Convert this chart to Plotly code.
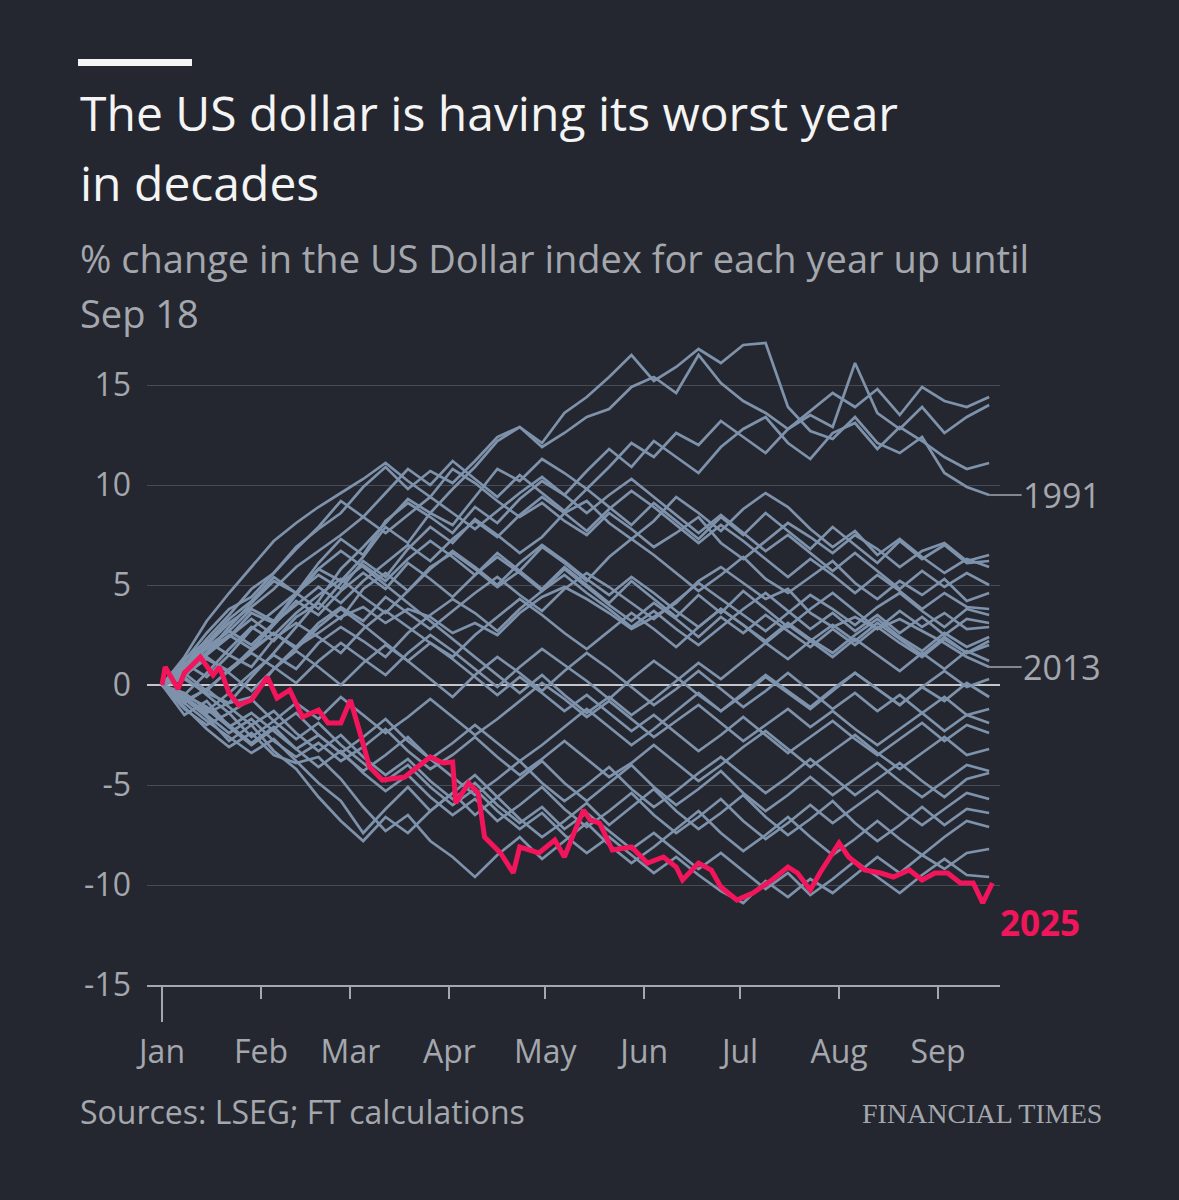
import pandas as pd
import plotly.graph_objects as go

# % change in the US Dollar index, year to date
start = pd.Timestamp("2025-01-01")
week_days = list(range(0, 260, 7))  # weekly readings, Jan 1 -> Sep 17

y1991 = [0, -0.6, -1.4, -0.9, 0.4, 1.6, 2.9, 4.2, 5.8, 6.9, 8.1, 9.3, 8.6, 9.8, 10.9, 12.2, 12.9, 12.1, 13.6, 14.4,
         15.4, 16.5, 15.2, 15.9, 16.8, 16.1, 17.0, 17.1, 13.9, 12.7, 12.3, 13.4, 12.1, 11.6, 12.4, 10.6, 9.9, 9.5]
y2013 = [0, 0.3, -0.4, -0.9, -0.6, 0.8, 1.9, 2.6, 3.4, 3.9, 3.1, 3.8, 3.4, 2.6, 3.1, 2.5, 3.6, 4.4, 4.9, 4.3,
         3.6, 2.8, 3.4, 4.1, 5.2, 5.9, 5.1, 4.3, 4.8, 3.6, 2.9, 3.4, 2.8, 3.3, 2.7, 2.1, 1.4, 0.9]

other_years = [
    [0, 1.2, 2.6, 3.8, 4.4, 5.6, 6.9, 7.8, 8.6, 9.9, 10.9, 9.8, 10.7, 10.1, 11.2, 12.4, 12.9, 11.9, 12.6, 13.4,
     13.8, 14.9, 15.4, 14.6, 16.5, 15.1, 14.2, 13.6, 12.8, 13.7, 14.6, 13.9, 14.8, 13.5, 14.9, 14.2, 13.9, 14.4],
    [0, 0.6, 1.9, 2.4, 3.6, 3.1, 4.5, 5.8, 5.2, 6.4, 7.9, 7.1, 8.6, 8.0, 9.4, 10.8, 10.2, 11.3, 10.6, 9.8,
     10.9, 12.1, 11.4, 12.6, 12.0, 13.2, 12.4, 11.6, 12.8, 13.5, 12.9, 16.1, 13.6, 12.8, 13.9, 12.6, 13.4, 14.0],
    [0, 0.9, 1.6, 2.9, 4.1, 5.2, 4.6, 6.1, 7.3, 6.5, 8.2, 9.1, 8.4, 7.6, 8.9, 8.1, 9.3, 10.2, 9.5, 10.7,
     11.8, 10.9, 12.2, 11.4, 10.6, 11.9, 12.8, 13.4, 12.1, 11.3, 12.6, 13.1, 11.8, 12.9, 12.2, 11.4, 10.8, 11.1],
    [0, 1.4, 3.2, 4.6, 5.9, 7.2, 8.1, 8.9, 9.6, 10.3, 11.1, 10.2, 9.4, 10.8, 10.1, 9.2, 8.4, 9.1, 8.2, 7.5,
     8.6, 7.8, 6.9, 7.6, 8.4, 7.1, 6.3, 7.2, 8.1, 7.4, 6.6, 7.5, 6.8, 5.9, 6.7, 7.1, 6.2, 6.5],
    [0, 0.8, 1.9, 2.7, 3.8, 3.2, 4.6, 5.5, 4.8, 6.2, 5.4, 6.8, 7.9, 7.1, 8.3, 7.5, 6.6, 7.4, 8.6, 9.2,
     8.1, 7.3, 8.2, 9.4, 8.6, 7.7, 8.8, 9.6, 8.9, 7.8, 6.9, 7.7, 6.5, 7.3, 6.4, 5.6, 6.3, 5.9],
    [0, -0.5, 0.6, 1.8, 2.9, 2.2, 3.4, 4.1, 3.3, 4.8, 5.6, 4.7, 5.9, 6.6, 5.8, 4.9, 5.7, 6.9, 6.1, 5.2,
     6.4, 7.3, 6.5, 5.6, 4.7, 5.5, 6.4, 5.3, 4.6, 5.4, 6.2, 5.1, 4.3, 5.2, 4.5, 5.3, 4.2, 4.6],
    [0, 0.5, 1.3, 0.7, 1.8, 2.6, 1.9, 3.1, 3.9, 3.2, 4.4, 3.6, 2.8, 3.7, 4.6, 5.4, 4.5, 3.7, 4.8, 5.6,
     4.9, 4.1, 3.3, 4.2, 5.1, 4.3, 3.5, 2.7, 3.6, 4.5, 3.8, 3.0, 3.9, 4.6, 3.7, 2.9, 3.8, 3.5],
    [0, -0.7, -1.3, -0.4, 0.6, 1.5, 0.8, 2.1, 2.9, 2.2, 1.4, 2.6, 3.5, 4.3, 3.6, 2.7, 3.8, 4.7, 5.5, 4.6,
     3.8, 2.9, 3.7, 2.8, 2.0, 2.9, 3.8, 4.6, 3.7, 2.8, 3.6, 2.7, 3.5, 2.6, 3.4, 2.5, 3.3, 3.1],
    [0, 1.1, 0.4, 1.5, 0.9, 2.3, 3.1, 2.4, 1.6, 2.8, 3.7, 2.9, 2.1, 1.4, 2.5, 3.4, 4.3, 3.5, 2.6, 1.8,
     2.7, 3.6, 2.8, 1.9, 2.9, 3.8, 3.0, 2.2, 3.1, 2.3, 1.6, 2.5, 3.3, 2.4, 1.7, 2.6, 1.9, 2.4],
    [0, 0.4, 1.6, 2.5, 1.8, 3.0, 4.2, 3.5, 4.7, 5.6, 4.8, 6.1, 5.3, 4.4, 5.5, 6.4, 5.6, 4.7, 5.8, 4.9,
     4.0, 3.2, 4.1, 3.3, 2.4, 3.4, 2.6, 3.5, 2.7, 1.9, 2.8, 2.0, 2.9, 2.1, 1.4, 2.3, 1.6, 2.0],
    [0, -0.9, -0.2, 0.7, 1.6, 0.9, 0.1, 1.2, 2.1, 1.3, 0.5, 1.6, 2.5, 1.7, 0.8, -0.1, 0.9, 1.8, 1.0, 0.2,
     -0.7, 0.3, 1.2, 0.4, -0.5, -1.3, -0.4, 0.5, -0.3, -1.1, -0.2, 0.6, -0.2, -1.0, -0.1, -0.8, 0.1, -0.6],
    [0, -1.2, -2.0, -1.4, -2.6, -1.8, -0.9, -1.7, -0.6, -1.5, -2.4, -1.6, -0.7, -1.6, -2.5, -1.7, -0.8, 0.1, -0.7, -1.6,
     -0.8, -1.7, -2.6, -1.8, -1.0, -1.9, -2.8, -2.0, -1.2, -2.1, -1.3, -2.2, -3.0, -2.2, -1.4, -2.3, -1.5, -1.9],
    [0, -0.6, -1.5, -2.4, -1.7, -2.8, -3.6, -2.9, -3.8, -3.1, -2.2, -3.3, -4.2, -3.5, -2.6, -3.6, -4.5, -3.7, -2.8, -3.7,
     -4.6, -3.9, -3.0, -3.9, -4.8, -4.0, -3.1, -2.3, -3.2, -4.1, -3.3, -2.5, -3.4, -4.2, -3.4, -2.6, -3.5, -3.2],
    [0, -0.9, -1.8, -2.6, -3.4, -2.7, -3.8, -4.9, -5.8, -7.4, -6.2, -5.1, -6.3, -5.4, -4.5, -5.6, -4.7, -3.8, -4.9, -5.8,
     -4.9, -4.0, -5.1, -6.0, -5.2, -4.3, -5.4, -6.3, -5.5, -4.6, -5.5, -4.7, -3.9, -4.8, -5.6, -4.8, -4.0, -4.3],
    [0, -0.5, -1.1, -2.0, -2.9, -2.1, -3.2, -4.1, -3.3, -4.4, -5.3, -4.5, -5.6, -6.5, -5.7, -6.8, -6.0, -5.1, -6.2, -7.1,
     -6.3, -5.4, -6.5, -7.4, -6.6, -5.7, -6.8, -7.7, -6.9, -6.0, -6.9, -6.1, -5.3, -6.2, -7.0, -6.2, -5.4, -5.7],
    [0, -1.1, -2.2, -3.1, -2.4, -3.5, -3.9, -3.6, -4.7, -6.1, -7.3, -6.5, -7.8, -8.6, -9.6, -8.5, -7.6, -8.7, -7.8, -6.9,
     -8.0, -8.9, -8.1, -7.2, -6.3, -7.4, -8.3, -7.5, -6.6, -7.6, -8.5, -7.7, -6.8, -7.7, -8.5, -7.6, -6.8, -7.1],
    [0, 0.4, -0.5, -1.4, -0.7, -1.8, -2.7, -1.9, -3.0, -3.9, -4.8, -4.0, -5.1, -6.0, -5.2, -6.3, -7.2, -6.4, -7.5, -8.4,
     -7.6, -8.5, -9.4, -8.6, -9.5, -10.3, -10.9, -9.8, -10.6, -9.7, -10.4, -9.5, -8.6, -9.4, -8.5, -9.2, -8.4, -8.2],
    [0, -0.8, -0.2, -1.1, -2.0, -1.3, -2.4, -3.3, -2.5, -3.6, -4.5, -3.7, -4.8, -5.7, -4.9, -6.0, -6.9, -6.1, -7.2, -6.4,
     -7.3, -8.2, -7.4, -8.3, -9.2, -8.4, -9.3, -10.2, -9.4, -10.5, -9.7, -8.8, -9.6, -10.4, -9.5, -8.7, -9.5, -9.6],
    [0, 0.7, 1.5, 2.4, 3.3, 2.5, 3.6, 4.5, 5.3, 4.4, 3.6, 4.7, 5.8, 6.7, 5.9, 5.0, 6.1, 7.0, 6.2, 5.3,
     4.5, 5.4, 4.6, 3.7, 2.9, 3.8, 3.0, 2.1, 3.0, 2.2, 1.4, 2.3, 1.5, 0.7, 1.6, 0.8, 1.7, 1.2],
    [0, 0.9, 1.8, 2.7, 2.0, 3.1, 4.0, 4.9, 4.1, 5.2, 6.1, 7.0, 6.2, 7.3, 8.2, 7.4, 8.5, 9.4, 8.6, 7.7,
     8.8, 9.7, 8.9, 8.0, 7.1, 8.0, 7.2, 6.3, 5.4, 6.3, 5.5, 4.6, 5.5, 4.7, 3.8, 4.6, 3.9, 3.8],
    [0, 0.6, -0.3, 0.8, 1.7, 2.6, 1.8, 2.9, 3.8, 3.0, 2.1, 1.2, 2.1, 1.3, 0.4, -0.5, 0.4, -0.4, -1.3, -0.5,
     -1.4, -2.3, -1.5, -2.4, -3.3, -2.5, -1.6, -2.5, -3.4, -2.6, -1.8, -2.7, -3.5, -2.7, -1.9, -2.8, -2.0, -2.4],
    [0, -0.4, -1.2, -2.1, -1.4, -2.3, -3.2, -2.5, -3.4, -2.6, -1.7, -2.8, -3.7, -2.9, -2.0, -2.9, -3.8, -3.0, -2.1, -1.2,
     -2.1, -3.0, -2.2, -1.3, -0.4, -1.3, -0.5, 0.4, -0.4, -1.2, -0.3, 0.6, -0.2, -1.0, -0.1, 0.7, -0.1, 0.3],
    [0, 0.8, 2.0, 3.1, 3.9, 4.8, 5.9, 6.7, 7.5, 8.4, 7.6, 8.5, 9.4, 8.6, 7.8, 8.7, 9.6, 10.4, 9.5, 8.6,
     9.5, 10.3, 9.4, 8.5, 7.6, 8.5, 7.6, 6.7, 7.5, 6.6, 5.7, 6.6, 5.7, 4.8, 5.7, 4.9, 5.6, 5.0],
    [0, 1.3, 2.2, 1.5, 2.8, 3.7, 4.6, 3.8, 5.1, 6.0, 5.2, 6.3, 7.2, 6.4, 5.5, 6.6, 5.7, 4.8, 5.9, 5.0,
     4.1, 5.2, 4.3, 3.4, 4.5, 3.6, 4.7, 3.8, 2.9, 3.8, 4.6, 3.7, 2.8, 3.7, 2.9, 3.6, 2.8, 2.9],
    [0, 0.5, 1.4, 0.6, -0.3, 0.8, 1.7, 0.9, 0.0, 1.1, 2.0, 1.2, 0.3, -0.6, 0.5, 1.4, 0.6, -0.3, 0.7, 1.6,
     0.8, -0.1, -1.0, -0.2, 0.7, -0.2, -1.1, -0.3, 0.6, -0.3, -1.2, -0.4, -1.3, -0.5, -1.4, -0.6, -1.5, -1.2],
    [0, -1.5, -0.8, -2.1, -3.0, -2.2, -1.4, -2.5, -3.4, -4.3, -3.5, -2.6, -3.7, -4.6, -5.5, -4.7, -3.8, -4.9, -5.8, -5.0,
     -4.1, -5.2, -6.1, -5.3, -4.4, -3.6, -4.5, -5.4, -4.6, -3.7, -4.6, -5.5, -4.7, -3.9, -4.8, -5.6, -4.7, -4.4],
    [0, 1.0, 2.3, 3.5, 4.8, 5.6, 6.8, 7.9, 9.2, 8.4, 9.6, 10.8, 10.0, 11.2, 10.3, 9.4, 10.5, 9.6, 8.7, 9.8,
     8.9, 8.0, 9.1, 8.2, 7.3, 8.4, 7.5, 8.6, 7.7, 6.8, 7.9, 7.0, 6.1, 7.2, 6.3, 7.0, 6.1, 6.2],
    [0, -0.7, -1.6, -2.8, -2.0, -3.3, -4.2, -5.6, -6.8, -7.8, -6.6, -7.4, -6.3, -5.4, -6.5, -5.6, -6.7, -7.6, -6.8, -5.9,
     -7.0, -6.1, -5.2, -6.3, -7.2, -6.4, -5.5, -6.6, -7.5, -6.7, -5.8, -6.9, -7.8, -7.0, -6.1, -7.0, -6.2, -6.4],
    [0, 0.9, 2.1, 3.3, 4.2, 5.4, 4.6, 5.8, 6.7, 5.9, 5.0, 4.1, 3.2, 2.3, 1.4, 0.5, -0.4, 0.5, -0.5, -1.4,
     -0.6, -1.5, -0.7, 0.2, 1.1, 0.3, 1.2, 2.1, 1.3, 2.2, 3.0, 2.2, 3.1, 2.3, 1.5, 2.4, 1.6, 2.2],
]

days_2025 = [0, 1, 5, 7, 12, 16, 18, 21, 24, 28, 33, 36, 40, 44, 49, 52, 56, 59, 62, 65,
             69, 76, 80, 84, 88, 91, 92, 96, 99, 101, 106, 110, 112, 118, 123, 126, 129, 132, 134, 137,
             141, 147, 152, 157, 161, 163, 168, 172, 175, 180, 185, 191, 196, 199, 203, 206, 212, 215, 220, 225,
             229, 234, 238, 242, 246, 250, 254, 257, 260]
vals_2025 = [0, 0.9, -0.2, 0.6, 1.4, 0.5, 0.9, -0.4, -1.0, -0.75, 0.4, -0.65, -0.25, -1.6, -1.25, -1.9, -1.9, -0.75, -2.4, -4.1,
             -4.75, -4.6, -4.1, -3.6, -3.9, -3.85, -5.9, -4.9, -5.4, -7.6, -8.4, -9.4, -8.1, -8.4, -7.75, -8.6, -7.4, -6.25, -6.75, -6.9,
             -8.25, -8.1, -8.9, -8.6, -9.1, -9.75, -8.9, -9.25, -10.1, -10.75, -10.4, -9.75, -9.1, -9.4, -10.25, -9.4, -7.9, -8.6, -9.25, -9.4,
             -9.6, -9.25, -9.75, -9.4, -9.4, -9.9, -9.9, -10.9, -9.9]

month_labels = ['Jan', 'Feb', 'Mar', 'Apr', 'May', 'Jun', 'Jul', 'Aug', 'Sep']
y_ticks = [-15, -10, -5, 0, 5, 10, 15]

BG = '#24272f'
GREY_LINE = '#7e92ab'
PINK = '#f2155c'
TEXT_GREY = '#a4a7ae'
FONT = 'Open Sans'


def to_dates(days):
    return [start + pd.Timedelta(days=d) for d in days]


week_dates = to_dates(week_days)
month_starts = [pd.Timestamp(2025, m, 1) for m in range(1, 10)]

fig = go.Figure()
for ys in other_years + [y1991, y2013]:
    fig.add_trace(go.Scatter(x=week_dates, y=ys, mode='lines',
                             line=dict(color=GREY_LINE, width=2.7),
                             hoverinfo='skip', showlegend=False))

fig.add_trace(go.Scatter(x=to_dates(days_2025), y=vals_2025, mode='lines',
                         line=dict(color=PINK, width=5),
                         hoverinfo='skip', showlegend=False))

# plot area in pixels: x 147..1000, y 335..985
L, R, T, B = 147, 1000, 335, 985


def px(x):
    return (x - L) / (R - L)


def py(y):
    return (B - y) / (B - T)


annotations = [
    dict(text='The US dollar is having its worst year', x=px(78), y=py(113),
         font=dict(size=48, color='#f4f4f4')),
    dict(text='in decades', x=px(78), y=py(182), font=dict(size=48, color='#f4f4f4')),
    dict(text='% change in the US Dollar index for each year up until', x=px(78), y=py(258),
         font=dict(size=38, color=TEXT_GREY)),
    dict(text='Sep 18', x=px(78), y=py(313), font=dict(size=38, color=TEXT_GREY)),
    dict(text='Sources: LSEG; FT calculations', x=px(78), y=py(1111),
         font=dict(size=32, color=TEXT_GREY)),
]
for a in annotations:
    a.update(xref='paper', yref='paper', xanchor='left', yanchor='middle', showarrow=False)

annotations.append(dict(text='FINANCIAL TIMES', x=px(1104), y=py(1113), xref='paper', yref='paper',
                        xanchor='right', yanchor='middle', showarrow=False,
                        font=dict(family='Liberation Serif', size=28, color=TEXT_GREY)))

for label, ys in [('1991', y1991), ('2013', y2013)]:
    annotations.append(dict(text=label, x=week_dates[-1], y=ys[-1], xref='x', yref='y',
                            showarrow=True, arrowhead=0, arrowwidth=1.5, arrowcolor=TEXT_GREY,
                            ax=73, ay=0, standoff=0,
                            font=dict(size=34, color=TEXT_GREY)))

annotations.append(dict(text='<b>2025</b>', x=to_dates(days_2025)[-1], y=vals_2025[-1], xref='x', yref='y',
                        xanchor='left', yanchor='middle', xshift=6, yshift=-39, showarrow=False,
                        font=dict(size=35, color=PINK)))

fig.update_layout(
    width=1179, height=1200,
    paper_bgcolor=BG, plot_bgcolor=BG,
    margin=dict(l=L, r=1179 - R, t=T, b=1200 - B),
    font=dict(family=FONT, color=TEXT_GREY),
    showlegend=False,
    annotations=annotations,
    shapes=[
        dict(type='rect', xref='paper', yref='paper', x0=px(78), x1=px(192), y0=py(66), y1=py(59),
             fillcolor='#f4f4f4', line=dict(width=0)),
        dict(type='line', xref='x', yref='paper', x0=start, x1=start, y0=0, y1=py(1022),
             line=dict(color=TEXT_GREY, width=2)),
    ],
)

fig.update_xaxes(
    type='date',
    range=[start - pd.Timedelta(days=4.7), start + pd.Timedelta(days=262.4)],
    tickvals=month_starts, ticktext=month_labels,
    ticks='outside', ticklen=12, tickwidth=2, tickcolor=TEXT_GREY,
    showline=True, linecolor=TEXT_GREY, linewidth=2,
    showgrid=False, zeroline=False,
    tickfont=dict(size=32, color=TEXT_GREY),
    ticklabelstandoff=26,
)

fig.update_yaxes(
    range=[-15, 17.5],
    tickvals=y_ticks, ticktext=[str(v) for v in y_ticks],
    showgrid=True, gridcolor='#474b54', gridwidth=1,
    zeroline=True, zerolinecolor='#c4c6cc', zerolinewidth=2,
    ticks='', tickfont=dict(size=32, color=TEXT_GREY),
    ticklabelstandoff=15,
)

fig.write_html('out.html', config={'displayModeBar': False},
               post_script="document.body.style.margin='0';document.body.style.background='#24272f';")
